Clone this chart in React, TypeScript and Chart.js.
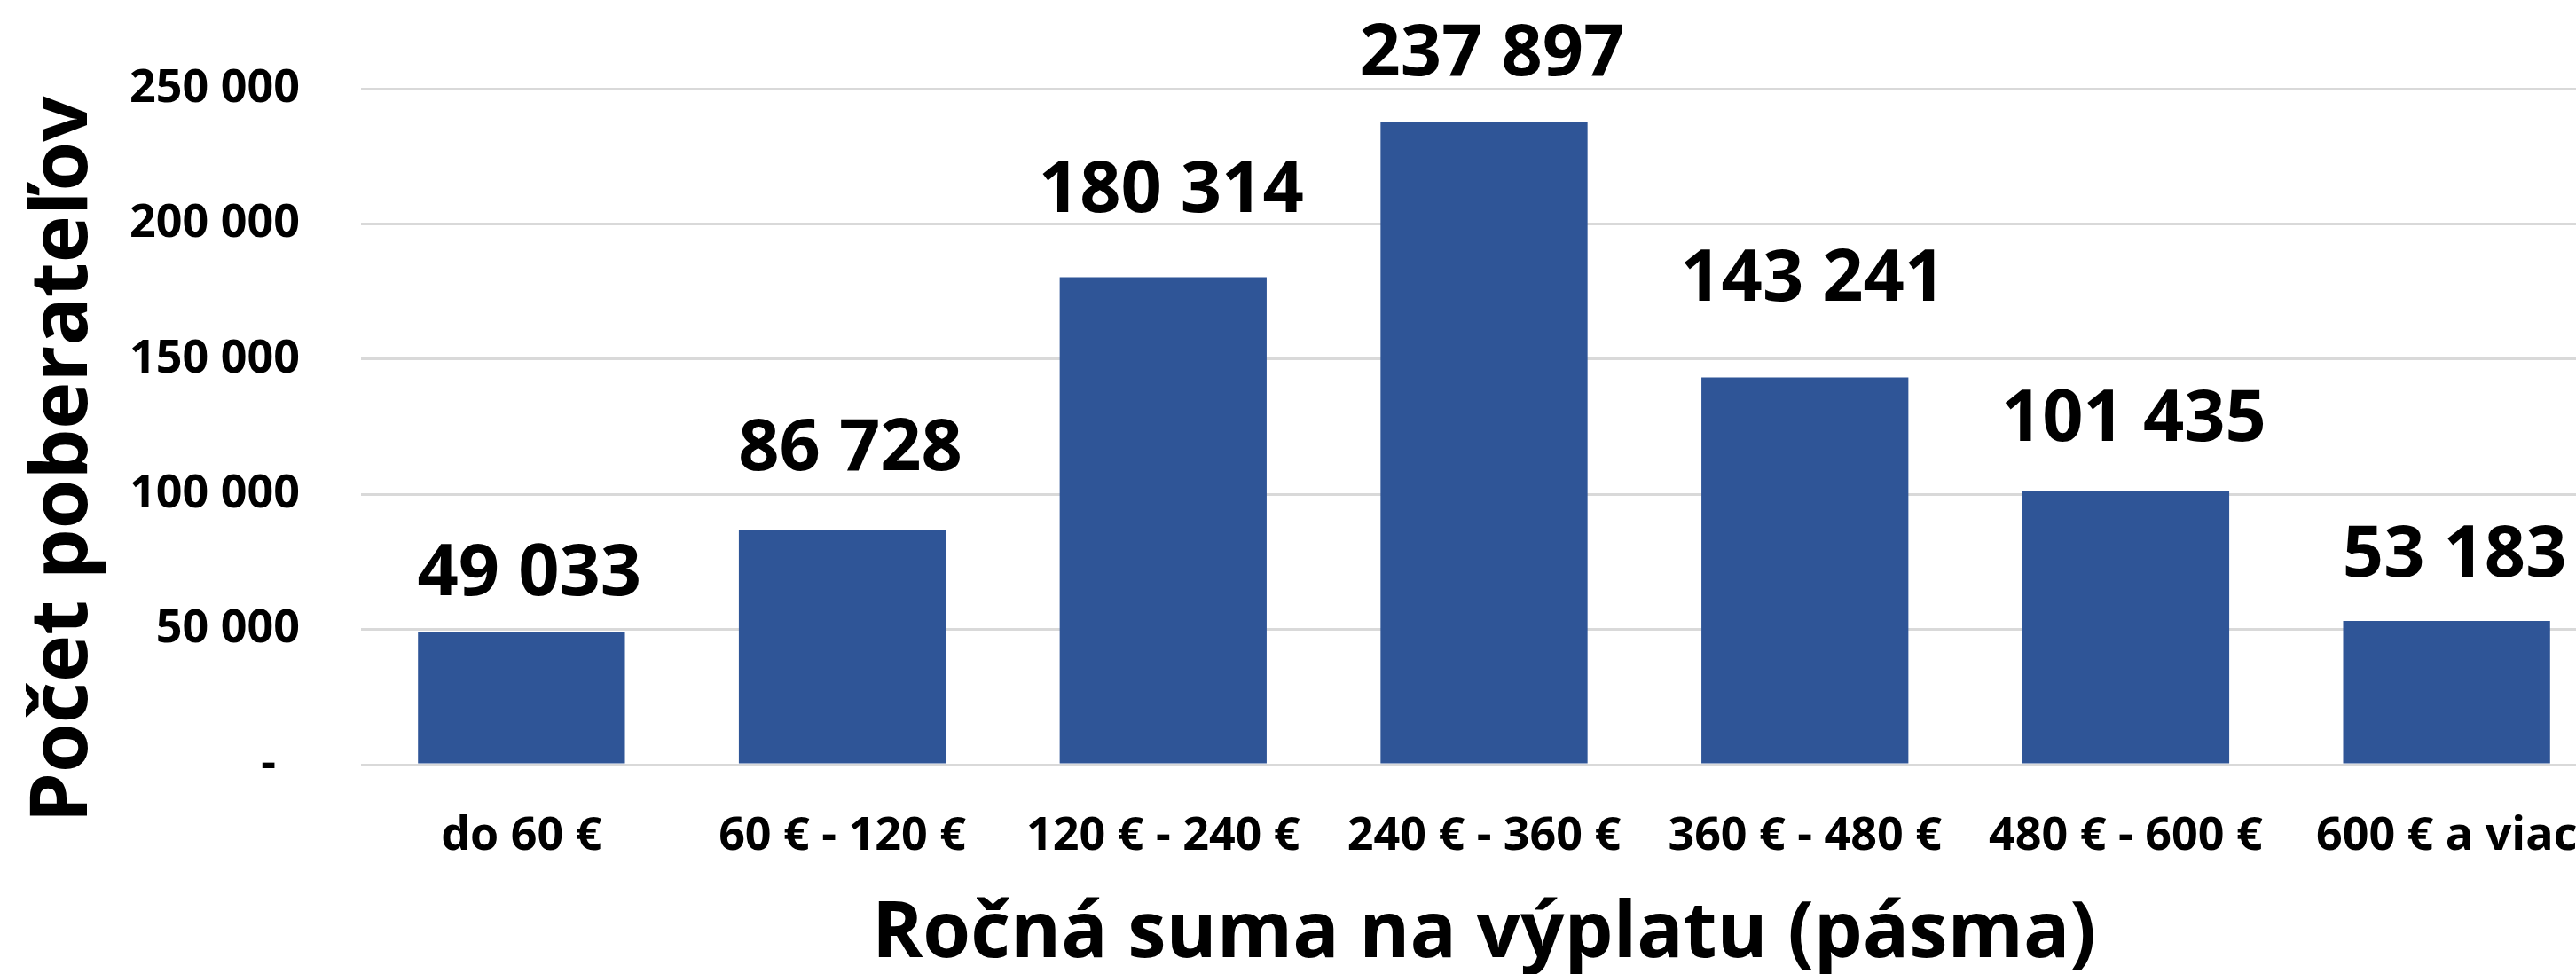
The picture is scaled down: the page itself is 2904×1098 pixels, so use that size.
import React, { useEffect, useRef } from 'react';
import { Chart, registerables } from 'chart.js';

Chart.register(...registerables);

const categories = ['do 60 €', '60 € - 120 €', '120 € - 240 €', '240 € - 360 €', '360 € - 480 €', '480 € - 600 €', '600 € a viac'];
const recipients = [49033, 86728, 180314, 237897, 143241, 101435, 53183];
const yMin = 0;
const yMax = 250000;
const yStep = 50000;
const xTitle = 'Ročná suma na výplatu (pásma)';
const yTitle = 'Počet poberateľov';

// styling: how far (px) each value label's baseline sits above its bar top (manually placed in the original)
const LABEL_RAISE = [42, 68, 74, 52, 87, 56, 50];
const LABEL_SHIFT_X = 9;

const FONT = '"Open Sans", sans-serif';
const BAR_COLOR = '#2F5597';
const GRID_COLOR = '#D9D9D9';

const fmt = (v: number) => String(Math.round(v)).replace(/\B(?=(\d{3})+(?!\d))/g, ' ');

const overlayPlugin = {
  id: 'overlayTexts',
  afterDatasetsDraw(chart: any) {
    const ctx = chart.ctx as CanvasRenderingContext2D;
    const meta = chart.getDatasetMeta(0);
    const data = chart.data.datasets[0].data as number[];
    ctx.save();
    ctx.fillStyle = '#000000';
    ctx.font = `bold 81px ${FONT}`;
    ctx.textAlign = 'center';
    ctx.textBaseline = 'alphabetic';
    meta.data.forEach((el: any, i: number) => {
      ctx.fillText(fmt(data[i]), el.x + LABEL_SHIFT_X, el.y - (LABEL_RAISE[i] ?? 50));
    });
    ctx.restore();

    ctx.save();
    ctx.fillStyle = '#000000';
    ctx.font = `bold 90px ${FONT}`;
    ctx.textAlign = 'center';
    ctx.textBaseline = 'alphabetic';
    ctx.translate(98, 518);
    ctx.rotate(-Math.PI / 2);
    ctx.fillText(yTitle, 0, 0);
    ctx.restore();
  },
};

export default function App() {
  const canvasRef = useRef<HTMLCanvasElement | null>(null);

  useEffect(() => {
    if (!canvasRef.current) return;
    const chart = new Chart(canvasRef.current, {
      type: 'bar',
      data: {
        labels: categories,
        datasets: [
          {
            label: yTitle,
            data: recipients,
            backgroundColor: BAR_COLOR,
            borderWidth: 0,
            barPercentage: 0.645,
            categoryPercentage: 1.0,
          },
        ],
      },
      options: {
        responsive: false,
        animation: false,
        devicePixelRatio: 1,
        layout: { padding: { top: 98, right: 1, left: 0, bottom: 0 } },
        plugins: {
          legend: { display: false },
          tooltip: { enabled: false },
          title: { display: false },
        },
        scales: {
          x: {
            grid: { display: false, drawTicks: false },
            border: { display: false },
            ticks: {
              color: '#000000',
              font: { family: FONT, size: 52, weight: 'bold' },
              padding: 50,
              autoSkip: false,
              maxRotation: 0,
              minRotation: 0,
            },
            title: {
              display: true,
              text: xTitle,
              color: '#000000',
              font: { family: FONT, size: 87, weight: 'bold', lineHeight: 1 },
              padding: { top: 0, bottom: 0 },
            },
            afterFit: (scale: any) => {
              scale.height = 236;
              scale.paddingLeft = 0;
              scale.paddingRight = 0;
            },
          },
          y: {
            min: yMin,
            max: yMax,
            grid: { color: GRID_COLOR, lineWidth: 3, drawTicks: false },
            border: { display: false },
            ticks: {
              stepSize: yStep,
              color: '#000000',
              font: { family: FONT, size: 52, weight: 'bold' },
              padding: 69,
              callback: (v: any) => (Number(v) === 0 ? '-  ' : fmt(Number(v))),
            },
            afterFit: (scale: any) => {
              scale.width = 407;
            },
          },
        },
      },
      plugins: [overlayPlugin],
    });
    return () => chart.destroy();
  }, []);

  return (
    <div style={{ position: 'fixed', left: 0, top: 0, width: '100vw', height: '100vh', overflow: 'hidden', background: '#ffffff' }}>
      <canvas ref={canvasRef} width={2940} height={1098} style={{ display: 'block' }} />
    </div>
  );
}
